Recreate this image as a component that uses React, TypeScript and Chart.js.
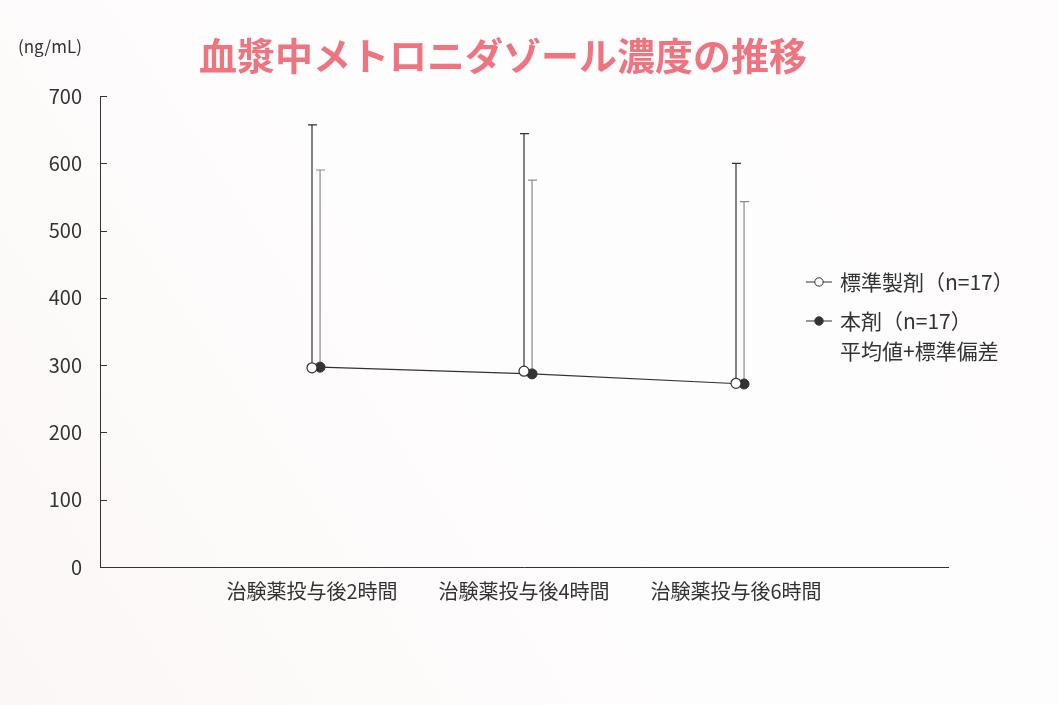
import React, { useEffect, useRef } from 'react';
import { Chart, registerables } from 'chart.js';

Chart.register(...registerables);

// カテゴリ
const categories = ['治験薬投与後2時間', '治験薬投与後4時間', '治験薬投与後6時間'];
const categoryPositions = [1, 2, 3];

// 標準製剤（n=17）
const standardMean = [296, 291, 273];
const standardSd = [361, 353, 327];

// 本剤（n=17）
const testMean = [297, 287, 272];
const testSd = [293, 288, 271];

const yTicks = [0, 100, 200, 300, 400, 500, 600, 700];

const FONT = '"Noto Sans CJK JP", "Noto Sans", sans-serif';
const OFFSET = 0.038;

export default function App() {
  const chartRef = useRef<HTMLCanvasElement>(null);
  const chartInstance = useRef<Chart | null>(null);

  useEffect(() => {
    document.body.style.margin = '0';
    if (!chartRef.current) return;
    if (chartInstance.current) chartInstance.current.destroy();
    const ctx = chartRef.current.getContext('2d');
    if (!ctx) return;

    // 背景
    const backgroundPlugin = {
      id: 'bg',
      beforeDraw: (chart: any) => {
        const c = chart.ctx;
        const g = c.createLinearGradient(0, chart.height, chart.width, 0);
        g.addColorStop(0, '#fcf7f7');
        g.addColorStop(0.5, '#fefdfd');
        g.addColorStop(1, '#fefcfc');
        c.save();
        c.fillStyle = g;
        c.fillRect(0, 0, chart.width, chart.height);
        c.restore();
      },
    };

    // 標準偏差のエラーバー
    const errorBarPlugin = {
      id: 'errorBars',
      beforeDatasetsDraw: (chart: any) => {
        const c = chart.ctx;
        const xs = chart.scales.x;
        const ys = chart.scales.y;
        const groups = [
          { mean: standardMean, sd: standardSd, off: 0, color: '#333333' },
          { mean: testMean, sd: testSd, off: OFFSET, color: '#8a8a8a' },
        ];
        c.save();
        c.lineWidth = 1.2;
        groups.forEach((g) => {
          c.strokeStyle = g.color;
          g.mean.forEach((m, i) => {
            const x = xs.getPixelForValue(categoryPositions[i] + g.off);
            const y0 = ys.getPixelForValue(m);
            const y1 = ys.getPixelForValue(m + g.sd[i]);
            c.beginPath();
            c.moveTo(x, y0);
            c.lineTo(x, y1);
            c.moveTo(x - 4, y1);
            c.lineTo(x + 5, y1);
            c.stroke();
          });
        });
        c.restore();
      },
    };

    // 内向き目盛り・タイトル・凡例
    const decorPlugin = {
      id: 'decor',
      afterDraw: (chart: any) => {
        const c = chart.ctx;
        const ys = chart.scales.y;
        const left = chart.chartArea.left;
        c.save();
        c.strokeStyle = '#333333';
        c.lineWidth = 1;
        yTicks.forEach((t) => {
          const y = Math.round(ys.getPixelForValue(t)) + 0.5;
          c.beginPath();
          c.moveTo(left, y);
          c.lineTo(left + 7, y);
          c.stroke();
        });

        // 単位
        c.fillStyle = '#333333';
        c.font = `17px ${FONT}`;
        c.textAlign = 'left';
        c.textBaseline = 'middle';
        c.fillText('(ng/mL)', 18, 47);

        // タイトル
        c.fillStyle = '#ee7480';
        c.font = `bold 38px ${FONT}`;
        c.textAlign = 'center';
        c.fillText('血漿中メトロニダゾール濃度の推移', 503, 56);

        // 凡例
        c.font = `21px ${FONT}`;
        c.textAlign = 'left';
        c.fillStyle = '#333333';
        const items = [
          { y: 282, fill: '#ffffff', text: '標準製剤（n=17）' },
          { y: 321, fill: '#333333', text: '本剤（n=17）' },
        ];
        items.forEach((it) => {
          c.strokeStyle = '#333333';
          c.lineWidth = 1;
          c.beginPath();
          c.moveTo(806, it.y);
          c.lineTo(832, it.y);
          c.stroke();
          c.beginPath();
          c.arc(819, it.y, 4.2, 0, Math.PI * 2);
          c.fillStyle = it.fill;
          c.fill();
          c.stroke();
          c.fillStyle = '#333333';
          c.fillText(it.text, 840, it.y);
        });
        c.fillText('平均値+標準偏差', 840, 351);
        c.restore();
      },
    };

    chartInstance.current = new Chart(ctx, {
      type: 'scatter',
      data: {
        datasets: [
          {
            label: '標準製剤（n=17）',
            data: standardMean.map((v, i) => ({ x: categoryPositions[i], y: v })),
            showLine: false,
            pointRadius: 5,
            pointBackgroundColor: '#ffffff',
            pointBorderColor: '#333333',
            pointBorderWidth: 1.2,
            order: 1,
          },
          {
            label: '本剤（n=17）',
            data: testMean.map((v, i) => ({ x: categoryPositions[i] + OFFSET, y: v })),
            showLine: true,
            borderColor: '#333333',
            borderWidth: 1.2,
            pointRadius: 5,
            pointBackgroundColor: '#333333',
            pointBorderColor: '#333333',
            pointBorderWidth: 1,
            order: 2,
          },
        ],
      },
      options: {
        responsive: true,
        maintainAspectRatio: false,
        animation: false,
        layout: { padding: { top: 96, right: 111, left: 0, bottom: 0 } },
        plugins: {
          legend: { display: false },
          tooltip: { enabled: false },
          title: { display: false },
        },
        scales: {
          x: {
            type: 'linear',
            min: 0,
            max: 4,
            afterBuildTicks: (axis: any) => {
              axis.ticks = categoryPositions.map((v) => ({ value: v }));
            },
            afterFit: (axis: any) => {
              axis.height = 138;
            },
            grid: { display: false, drawTicks: false },
            border: { display: true, color: '#333333', width: 1 },
            ticks: {
              color: '#333333',
              padding: 12,
              maxRotation: 0,
              font: { family: FONT, size: 20 },
              callback: (value: any) => {
                const idx = categoryPositions.indexOf(Number(value));
                return idx >= 0 ? categories[idx] : '';
              },
            },
          },
          y: {
            type: 'linear',
            min: 0,
            max: 700,
            afterBuildTicks: (axis: any) => {
              axis.ticks = yTicks.map((v) => ({ value: v }));
            },
            afterFit: (axis: any) => {
              axis.width = 100;
            },
            grid: { display: false, drawTicks: false },
            border: { display: true, color: '#333333', width: 1 },
            ticks: {
              color: '#333333',
              padding: 18,
              font: { family: FONT, size: 20 },
            },
          },
        },
      },
      plugins: [backgroundPlugin, errorBarPlugin, decorPlugin],
    } as any);

    return () => {
      if (chartInstance.current) {
        chartInstance.current.destroy();
        chartInstance.current = null;
      }
    };
  }, []);

  return (
    <div style={{ position: 'relative', width: 1059, height: 705 }}>
      <canvas ref={chartRef} />
    </div>
  );
}
